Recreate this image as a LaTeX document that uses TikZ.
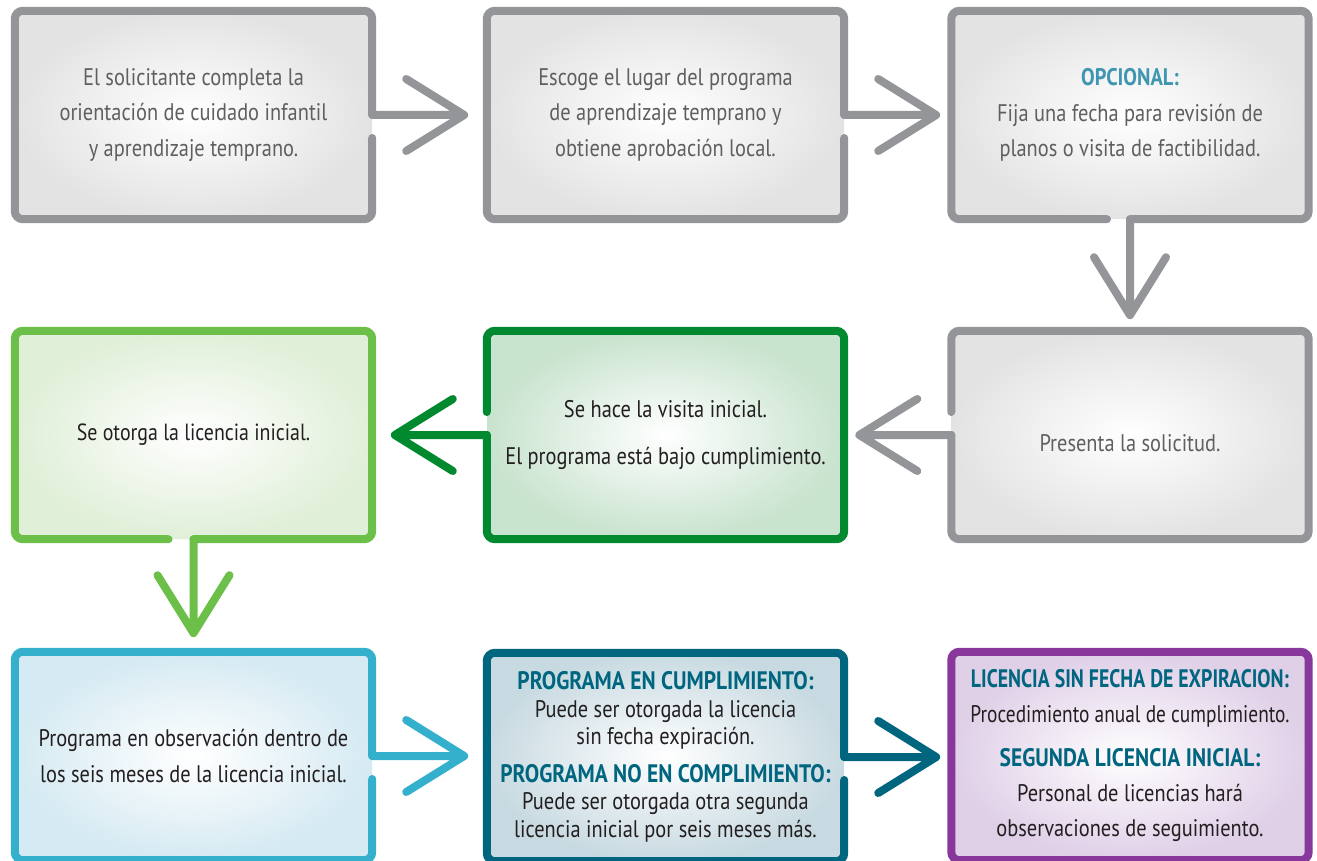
\documentclass[tikz,border=0pt]{standalone}
\usepackage{graphicx}
\usepackage{fontspec}
\setmainfont{PT Sans}[FakeStretch=0.85]
\usetikzlibrary{calc}
\definecolor{gris}{HTML}{939598}
\definecolor{grisfill}{HTML}{E3E3E4}
\definecolor{gristext}{HTML}{5E5F61}
\definecolor{azul}{HTML}{3F96B0}
\definecolor{verdeclaro}{HTML}{6CC04A}
\definecolor{verdeclarofill}{HTML}{E0EFD8}
\definecolor{verde}{HTML}{00892F}
\definecolor{verdefill}{HTML}{C8E3CE}
\definecolor{cian}{HTML}{35B0CC}
\definecolor{cianfill}{HTML}{D5EAF2}
\definecolor{petroleo}{HTML}{00657F}
\definecolor{petroleofill}{HTML}{C8DAE1}
\definecolor{morado}{HTML}{87389A}
\definecolor{moradofill}{HTML}{DFCFE7}
\definecolor{texto}{HTML}{231F20}
\newcommand{\titulo}[1]{\textcolor{petroleo}{\fontsize{25.3}{27.5}\selectfont\bfseries #1}}

\begin{document}
\begin{tikzpicture}[x=1pt,y=-1pt,
  flowbox/.style={rectangle,rounded corners=8pt,minimum width=357pt,minimum height=208pt,inner sep=0pt,align=center,inner color=white,outer color=#1,text=texto,font=\fontsize{24}{35.5}\selectfont},
  edge/.style={line width=8pt,rounded corners=8pt,line cap=round,color=#1},
  chevron/.style={line width=8pt,line cap=round,line join=round,color=#1}]
\fill[white] (0,0) rectangle (1317,861);
\useasboundingbox (0,0) rectangle (1317,861);

% cajas
\node[flowbox=grisfill,text=gristext] (solicitante) at (193.5,115) {El solicitante completa la\\orientación de cuidado infantil\\y aprendizaje temprano.};
\node[flowbox=grisfill,text=gristext] (lugar) at (665.5,115) {Escoge el lugar del programa\\de aprendizaje temprano y\\obtiene aprobación local.};
\node[flowbox=grisfill,text=gristext] (fecha) at (1130,115) {\textcolor{azul}{\bfseries OPCIONAL:}\\Fija una fecha para revisión de\\planos o visita de factibilidad.};
\node[flowbox=verdeclarofill,font=\fontsize{23.4}{35.5}\selectfont] (otorga) at (193.5,435) {Se otorga la licencia inicial.};
\node[flowbox=verdefill] (visita) at (665.5,435) {Se hace la visita inicial.\\[11.5pt]El programa está bajo cumplimiento.};
\node[flowbox=grisfill,text=gristext] (presenta) at (1130,435) {\rule{0pt}{33pt}Presenta la solicitud.};
\node[flowbox=cianfill] (observacion) at (193.5,756) {Programa en observación dentro de\\los seis meses de la licencia inicial.};
\node[flowbox=petroleofill,font=\fontsize{24}{27.5}\selectfont] (cumplimiento) at (665.5,757) {\titulo{PROGRAMA EN CUMPLIMIENTO:}\\Puede ser otorgada la licencia\\sin fecha expiración.\\[10pt]\titulo{PROGRAMA NO EN COMPLIMIENTO:}\\Puede ser otorgada otra segunda\\licencia inicial por seis meses más.};
\node[flowbox=moradofill,font=\fontsize{24}{35}\selectfont] (expiracion) at (1130,756) {\scalebox{0.92}[1]{\titulo{LICENCIA SIN FECHA DE EXPIRACION:}}\\\scalebox{0.95}[1]{Procedimiento anual de cumplimiento.}\\[9pt]\titulo{SEGUNDA LICENCIA INICIAL:}\\Personal de licencias hará\\observaciones de seguimiento.};

% bordes y flechas
\draw[edge=gris] ($(solicitante.east)+(0,23)$) -- (solicitante.south east) -- (solicitante.south west) -- (solicitante.north west) -- (solicitante.north east) -- (solicitante.east);
\draw[chevron=gris] (solicitante.east) -- ++(92,0) coordinate (t1) -- ++(-58,-36) (t1) -- ++(-58,36);
\draw[edge=gris] ($(lugar.east)+(0,23)$) -- (lugar.south east) -- (lugar.south west) -- (lugar.north west) -- (lugar.north east) -- (lugar.east);
\draw[chevron=gris] (lugar.east) -- ++(92,0) coordinate (t2) -- ++(-58,-36) (t2) -- ++(-58,36);
\draw[edge=gris] ($(fecha.south)+(-23,0)$) -- (fecha.south west) -- (fecha.north west) -- (fecha.north east) -- (fecha.south east) -- (fecha.south);
\draw[chevron=gris] (fecha.south) -- ++(0,96) coordinate (t3) -- ++(-36,-58) (t3) -- ++(36,-58);

\draw[edge=gris] ($(presenta.west)+(0,-23)$) -- (presenta.north west) -- (presenta.north east) -- (presenta.south east) -- (presenta.south west) -- (presenta.west);
\draw[chevron=gris] (presenta.west) -- ++(-92,0) coordinate (t4) -- ++(58,-36) (t4) -- ++(58,36);
\draw[edge=verde] ($(visita.west)+(0,-23)$) -- (visita.north west) -- (visita.north east) -- (visita.south east) -- (visita.south west) -- (visita.west);
\draw[chevron=verde] (visita.west) -- ++(-92,0) coordinate (t5) -- ++(58,-36) (t5) -- ++(58,36);
\draw[edge=verdeclaro] ($(otorga.south)+(-25,0)$) -- (otorga.south west) -- (otorga.north west) -- (otorga.north east) -- (otorga.south east) -- (otorga.south);
\draw[chevron=verdeclaro] (otorga.south) -- ++(0,94) coordinate (t6) -- ++(-36,-58) (t6) -- ++(36,-58);

\draw[edge=cian] ($(observacion.east)+(0,23)$) -- (observacion.south east) -- (observacion.south west) -- (observacion.north west) -- (observacion.north east) -- (observacion.east);
\draw[chevron=cian] (observacion.east) -- ++(92,0) coordinate (t7) -- ++(-58,-36) (t7) -- ++(-58,36);
\draw[edge=petroleo] ($(cumplimiento.east)+(0,23)$) -- (cumplimiento.south east) -- (cumplimiento.south west) -- (cumplimiento.north west) -- (cumplimiento.north east) -- (cumplimiento.east);
\draw[chevron=petroleo] (cumplimiento.east) -- ++(92,0) coordinate (t8) -- ++(-58,-36) (t8) -- ++(-58,36);
\draw[edge=morado] (expiracion.north west) rectangle (expiracion.south east);
\end{tikzpicture}
\end{document}
